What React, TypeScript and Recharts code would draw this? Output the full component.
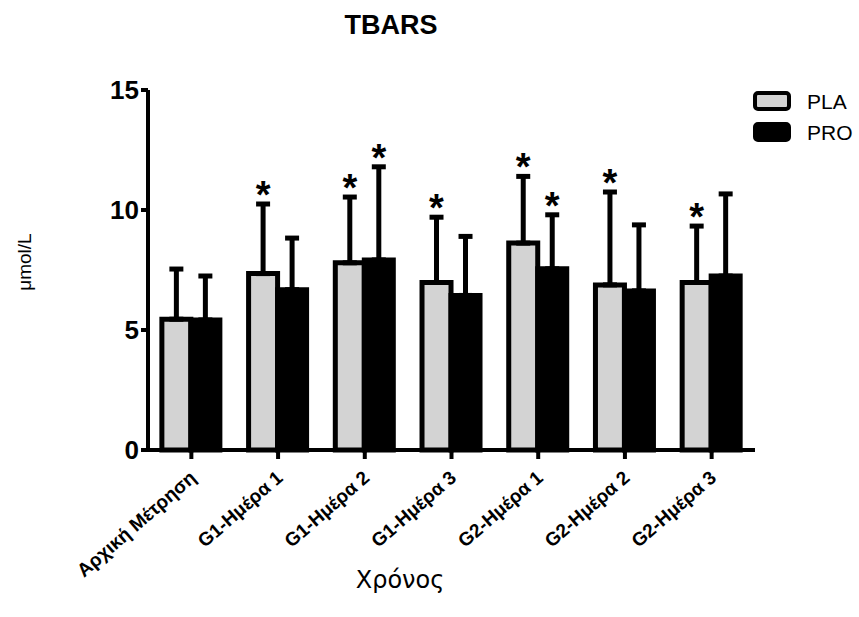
import React from "react";
import { BarChart, Bar, XAxis, YAxis, ErrorBar, LabelList } from "recharts";

const categories = ["Αρχική Μέτρηση", "G1-Ημέρα 1", "G1-Ημέρα 2", "G1-Ημέρα 3", "G2-Ημέρα 1", "G2-Ημέρα 2", "G2-Ημέρα 3"];
const plaMean = [5.45, 7.35, 7.8, 6.98, 8.62, 6.88, 6.98];
const plaSd = [2.09, 2.9, 2.74, 2.72, 2.78, 3.87, 2.35];
const proMean = [5.42, 6.68, 7.92, 6.44, 7.55, 6.63, 7.25];
const proSd = [1.83, 2.15, 3.88, 2.46, 2.25, 2.75, 3.42];
const plaSig = [false, true, true, true, true, true, true];
const proSig = [false, false, true, false, true, false, false];
const yTicks = [0, 5, 10, 15];
const seriesNames = ["PLA", "PRO"];
const seriesColors = ["#d3d3d3", "#000"];

const data = categories.map((c, i) => ({
  name: c,
  PLA: plaMean[i],
  PRO: proMean[i],
  plaErr: [0, plaSd[i]],
  proErr: [0, proSd[i]],
}));

const FONT = "'Liberation Sans', Arial, Helvetica, sans-serif";

const makeStar = (means: number[], sds: number[], sig: boolean[]) => (props: any) => {
  const { x, y, width, height, index } = props;
  if (!sig[index]) return null;
  const ppu = Number(height) / means[index];
  const capY = Number(y) - sds[index] * ppu;
  return (
    <text
      x={Number(x) + Number(width) / 2}
      y={capY + 4}
      textAnchor="middle"
      fontSize={38}
      fontWeight="bold"
      fontFamily={FONT}
      fill="#000"
    >
      *
    </text>
  );
};

const XTick = (props: any) => {
  const { x, y, payload } = props;
  return (
    <g transform={`translate(${x + 2},${y + 14})`}>
      <text
        transform="rotate(-41)"
        textAnchor="end"
        fontSize={19}
        fontWeight="bold"
        fontFamily={FONT}
        fill="#000"
        dy={6}
      >
        {payload.value}
      </text>
    </g>
  );
};

export default function App() {
  return (
    <div style={{ position: "absolute", left: 0, top: 0, width: 859, height: 617, background: "#fff" }}>
      <BarChart
        width={859}
        height={617}
        data={data}
        margin={{ top: 90, right: 104, bottom: 0, left: 0 }}
        barGap={0}
        barCategoryGap="16%"
      >
        <text x={391} y={34} textAnchor="middle" fontSize={27} fontWeight="bold" fontFamily={FONT} fill="#000">
          TBARS
        </text>
        <text
          x={31}
          y={262}
          transform="rotate(-90 31 262)"
          textAnchor="middle"
          fontSize={19}
          fontFamily={FONT}
          fill="#000"
        >
          μmol/L
        </text>
        <text x={400} y={588} textAnchor="middle" fontSize={24} fontFamily="'DejaVu Sans', sans-serif" fill="#000">
          Χρόνος
        </text>
        <g>
          {seriesNames.map((s, i) => (
            <g key={s}>
              <rect x={755} y={93 + i * 31} width={34} height={16} rx={3} fill={seriesColors[i]} stroke="#000" strokeWidth={4} />
              <text x={807} y={109 + i * 31} fontSize={21} fontFamily={FONT} fill="#000">
                {s}
              </text>
            </g>
          ))}
        </g>
        <XAxis
          dataKey="name"
          height={167}
          interval={0}
          tickSize={9}
          axisLine={{ stroke: "#000", strokeWidth: 4 }}
          tickLine={{ stroke: "#000", strokeWidth: 4 }}
          tick={<XTick />}
        />
        <YAxis
          width={148}
          domain={[0, 15]}
          ticks={yTicks}
          tickSize={7}
          tickMargin={2}
          axisLine={{ stroke: "#000", strokeWidth: 4 }}
          tickLine={{ stroke: "#000", strokeWidth: 4 }}
          tick={{ fontSize: 26, fontWeight: "bold", fill: "#000", fontFamily: FONT }}
        />
        <Bar dataKey="PLA" fill={seriesColors[0]} stroke="#000" strokeWidth={5} isAnimationActive={false}>
          <ErrorBar dataKey="plaErr" direction="y" width={7} stroke="#000" strokeWidth={5} />
          <LabelList content={makeStar(plaMean, plaSd, plaSig)} />
        </Bar>
        <Bar dataKey="PRO" fill={seriesColors[1]} stroke="#000" strokeWidth={5} isAnimationActive={false}>
          <ErrorBar dataKey="proErr" direction="y" width={7} stroke="#000" strokeWidth={5} />
          <LabelList content={makeStar(proMean, proSd, proSig)} />
        </Bar>
      </BarChart>
    </div>
  );
}
